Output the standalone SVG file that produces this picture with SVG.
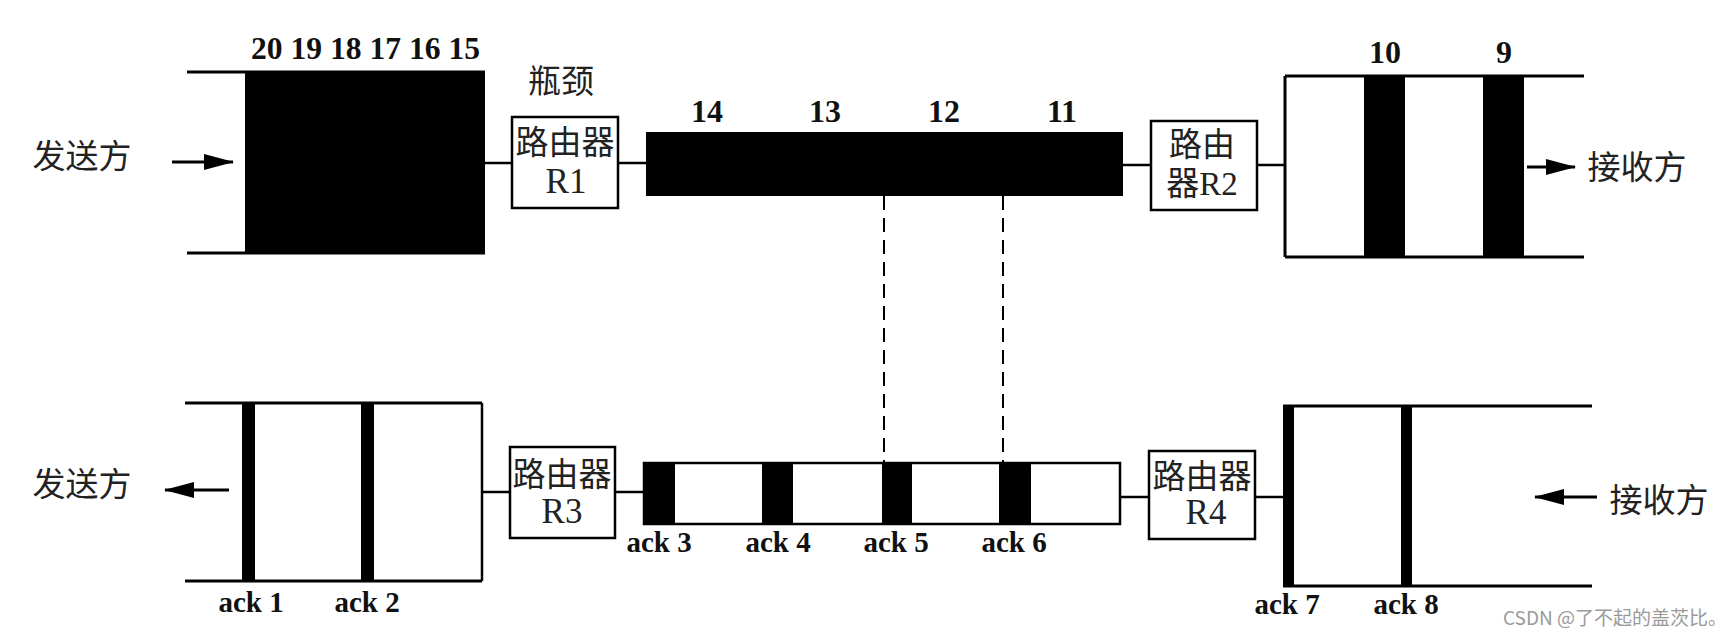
<svg xmlns="http://www.w3.org/2000/svg" width="1724" height="638" viewBox="0 0 1724 638">
<style>
.ln{stroke:#000;stroke-width:3;fill:none}
.thin{stroke:#000;stroke-width:2.5;fill:none}
.box{fill:#fff;stroke:#000;stroke-width:2.5}
.blk{fill:#000}
.dash{stroke:#000;stroke-width:2;stroke-dasharray:14 8;fill:none}
.cn{font-family:"Liberation Serif","Noto Sans CJK SC",serif;font-size:33px;fill:#222;text-anchor:middle}
.rl{font-family:"Liberation Serif",serif;font-size:35px;fill:#222;text-anchor:middle}
.num{font-family:"Liberation Serif",serif;font-weight:bold;font-size:32px;fill:#111;text-anchor:middle}
.ack{font-family:"Liberation Serif",serif;font-weight:bold;font-size:29px;fill:#111;text-anchor:middle}
.wm{font-family:"Noto Sans CJK SC","Noto Sans",sans-serif;font-size:19px;fill:#9a9a9a}
</style>
<defs>
<marker id="ah" viewBox="0 0 30 16" refX="29" refY="8" markerWidth="30" markerHeight="16" markerUnits="userSpaceOnUse" orient="auto" overflow="visible">
<path d="M0,0 L30,8 L0,16 Z" fill="#000"/>
</marker>
</defs>
<rect width="1724" height="638" fill="#fff"/>

<g id="sender-top">
<text class="cn" x="82" y="168" font-size="34">发送方</text>
<line class="ln" x1="187" y1="72" x2="485" y2="72"/>
<line class="ln" x1="187" y1="253" x2="485" y2="253"/>
<rect class="blk" x="245" y="72" width="240" height="181"/>
<text class="num" x="251" y="59" textLength="229" lengthAdjust="spacingAndGlyphs" style="text-anchor:start">20 19 18 17 16 15</text>
</g>

<g id="router-r1">
<text class="cn" x="561" y="93" font-size="29">瓶颈</text>
<rect class="box" x="512" y="117" width="106" height="91"/>
<text class="cn" x="565" y="154">路由器</text>
<text class="rl" x="566" y="193">R1</text>
</g>

<g id="link-top">
<rect class="blk" x="646" y="132" width="477" height="64"/>
<text class="num" x="707" y="122">14</text>
<text class="num" x="825" y="122">13</text>
<text class="num" x="944" y="122">12</text>
<text class="num" x="1062" y="122">11</text>
</g>

<g id="router-r2">
<rect class="box" x="1151" y="121" width="106" height="89"/>
<text class="cn" x="1202" y="156">路由</text>
<text class="cn" x="1202" y="195">器R2</text>
</g>

<g id="receiver-top">
<line class="ln" x1="1285" y1="76" x2="1285" y2="257"/>
<line class="ln" x1="1285" y1="76" x2="1584" y2="76"/>
<line class="ln" x1="1285" y1="257" x2="1584" y2="257"/>
<rect class="blk" x="1364" y="76" width="41" height="181"/>
<rect class="blk" x="1483" y="76" width="41" height="181"/>
<text class="num" x="1385" y="63">10</text>
<text class="num" x="1504" y="63">9</text>
<text class="cn" x="1637" y="179" font-size="35">接收方</text>
</g>

<g id="sender-bottom">
<text class="cn" x="82" y="496" font-size="34">发送方</text>
<line class="ln" x1="185" y1="403" x2="482" y2="403"/>
<line class="ln" x1="185" y1="581" x2="482" y2="581"/>
<line class="thin" x1="482" y1="403" x2="482" y2="581"/>
<rect class="blk" x="242" y="403" width="13" height="178"/>
<rect class="blk" x="361" y="403" width="13" height="178"/>
<text class="ack" x="251" y="612">ack 1</text>
<text class="ack" x="367" y="612">ack 2</text>
</g>

<g id="router-r3">
<rect class="box" x="510" y="447" width="105" height="91"/>
<text class="cn" x="562" y="486">路由器</text>
<text class="rl" x="562" y="523">R3</text>
</g>

<g id="link-bottom">
<rect x="644" y="463" width="476" height="61" fill="#fff" stroke="#000" stroke-width="2.5"/>
<rect class="blk" x="644" y="463" width="31" height="61"/>
<rect class="blk" x="762" y="463" width="31" height="61"/>
<rect class="blk" x="882" y="463" width="30" height="61"/>
<rect class="blk" x="999" y="463" width="32" height="61"/>
<text class="ack" x="659" y="552">ack 3</text>
<text class="ack" x="778" y="552">ack 4</text>
<text class="ack" x="896" y="552">ack 5</text>
<text class="ack" x="1014" y="552">ack 6</text>
</g>

<g id="router-r4">
<rect class="box" x="1149" y="451" width="106" height="88"/>
<text class="cn" x="1202" y="488">路由器</text>
<text class="rl" x="1206" y="524">R4</text>
</g>

<g id="receiver-bottom">
<line class="ln" x1="1283" y1="406" x2="1592" y2="406"/>
<line class="ln" x1="1283" y1="586" x2="1592" y2="586"/>
<rect class="blk" x="1283" y="406" width="11" height="180"/>
<rect class="blk" x="1401" y="406" width="11" height="180"/>
<text class="ack" x="1287" y="614">ack 7</text>
<text class="ack" x="1406" y="614">ack 8</text>
<text class="cn" x="1659" y="512" font-size="35">接收方</text>
</g>

<g id="connectors">
<line class="ln" x1="172" y1="162" x2="233" y2="162" marker-end="url(#ah)"/>
<line class="thin" x1="485" y1="163" x2="512" y2="163"/>
<line class="thin" x1="618" y1="163" x2="646" y2="163"/>
<line class="thin" x1="1123" y1="165" x2="1151" y2="165"/>
<line class="thin" x1="1257" y1="165" x2="1285" y2="165"/>
<line class="ln" x1="1527" y1="167" x2="1575" y2="167" marker-end="url(#ah)"/>
<line class="dash" x1="884" y1="196" x2="884" y2="463"/>
<line class="dash" x1="1003" y1="196" x2="1003" y2="463"/>
<line class="ln" x1="229" y1="490" x2="165" y2="490" marker-end="url(#ah)"/>
<line class="thin" x1="482" y1="492" x2="510" y2="492"/>
<line class="thin" x1="615" y1="492" x2="644" y2="492"/>
<line class="thin" x1="1120" y1="497" x2="1149" y2="497"/>
<line class="thin" x1="1255" y1="497" x2="1283" y2="497"/>
<line class="ln" x1="1597" y1="497" x2="1535" y2="497" marker-end="url(#ah)"/>
</g>

<text class="wm" x="1503" y="625">CSDN @了不起的盖茨比。</text>
</svg>
